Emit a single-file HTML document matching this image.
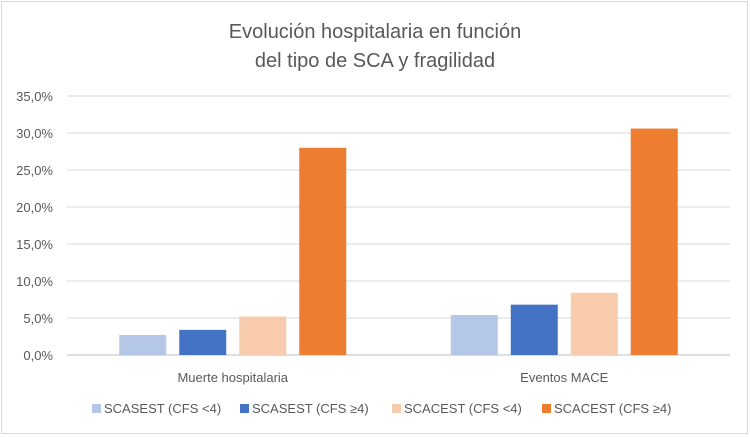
<!DOCTYPE html>
<html><head><meta charset="utf-8"><style>
body{margin:0;background:#fff;}
svg{display:block;font-family:"Liberation Sans",sans-serif;}
</style></head><body>
<svg id="c" width="750" height="437" viewBox="0 0 750 437">
<rect x="1.5" y="1.5" width="746" height="432" fill="#fff" stroke="#d9d9d9"/>
<text x="375" y="38" text-anchor="middle" font-size="20" fill="#595959">Evolución hospitalaria en función</text>
<text x="375" y="67" text-anchor="middle" font-size="20" fill="#595959">del tipo de SCA y fragilidad</text>
<g id="grid"></g><g id="bars"></g><g id="legend"></g>
</svg>
<script>
const categories=["Muerte hospitalaria","Eventos MACE"];
const seriesNames=["SCASEST (CFS <4)","SCASEST (CFS ≥4)","SCACEST (CFS <4)","SCACEST (CFS ≥4)"];
const s1=[2.7,5.4];
const s2=[3.4,6.8];
const s3=[5.2,8.4];
const s4=[28.0,30.6];
const ticks=[0,5,10,15,20,25,30,35];
const colors=["#b4c7e7","#4472c4","#f8cbad","#ed7d31"];
const series=[s1,s2,s3,s4];
const NS="http://www.w3.org/2000/svg";
const x0=67,x1=730,y0=355,yTop=96;
const y=v=>y0-(v/35)*(y0-yTop);
const grid=document.getElementById('grid');
function mk(t,a,p){const e=document.createElementNS(NS,t);for(const k in a)e.setAttribute(k,a[k]);p.appendChild(e);return e;}
ticks.forEach(t=>{
 const l=mk('line',{x1:x0,x2:x1,y1:y(t),y2:y(t),stroke:t===0?'#bfbfbf':'#d9d9d9','stroke-width':1},grid);
 
 
 const tx=mk('text',{x:53,y:y(t)+5,'text-anchor':'end','font-size':13,fill:'#595959'},grid);
 tx.textContent=t.toFixed(1).replace('.',',')+'%';
 
 
});
const bars=document.getElementById('bars');
const gw=(x1-x0)/categories.length,bw=47,gap=13;
categories.forEach((c,i)=>{
 const cx=x0+gw*(i+0.5);
 const start=cx-(4*bw+3*gap)/2;
 series.forEach((s,j)=>{
  const r=mk('rect',{x:start+j*(bw+gap),y:y(s[i]),width:bw,height:y0-y(s[i]),fill:colors[j]},bars);
  
  
 });
 const t=mk('text',{x:cx,y:382,'text-anchor':'middle','font-size':13,fill:'#595959'},bars);
 t.textContent=c;
 
 
});
const lg=document.getElementById('legend');
const lx=[92,240,392,542];
seriesNames.forEach((n,j)=>{
 const r=mk('rect',{x:lx[j],y:404,width:9,height:9,fill:colors[j]},lg);
 
 
 const t=mk('text',{x:lx[j]+12,y:413,'font-size':13,fill:'#595959'},lg);
 t.textContent=n;
 
 
});
</script>
</body></html>
